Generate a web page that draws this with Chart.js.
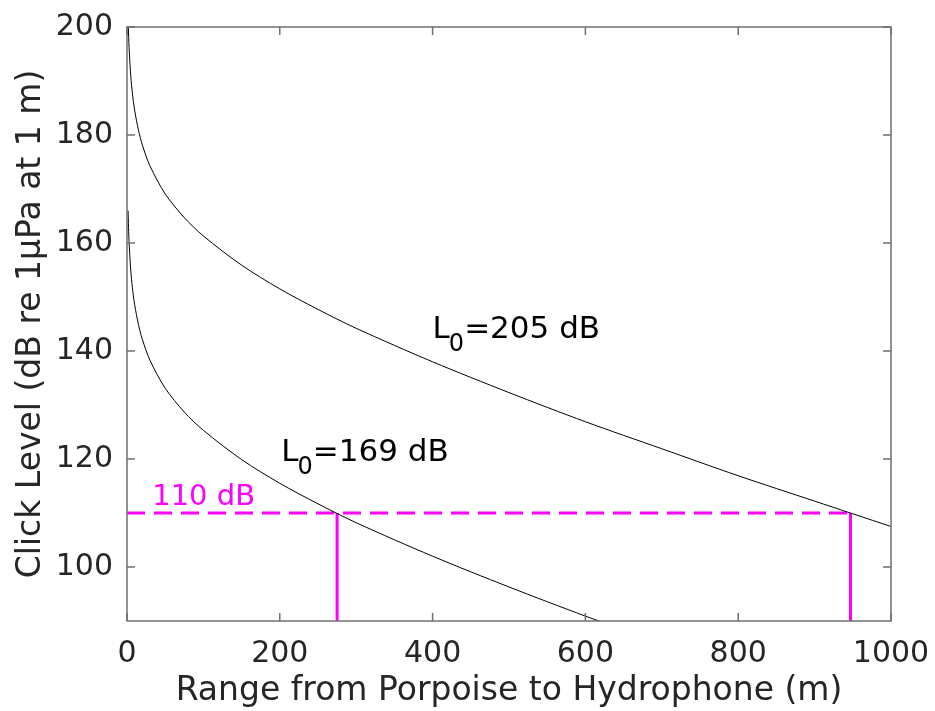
<!doctype html>
<html lang="en">
<head>
    <meta charset="utf-8">
    <title>Click Level vs Range</title>
    <script src="https://cdn.jsdelivr.net/npm/chart.js@4.4.1/dist/chart.umd.min.js"></script>
    <style>
        html, body { margin: 0; padding: 0; background: #fff; }
        #wrap { width: 935px; height: 711px; }
    </style>
</head>
<body>
    <div id="wrap"><canvas id="levelChart" width="935" height="711"></canvas></div>
    <script>
        // ranges (m) and click levels (dB)
        var range205 = [1.4, 2, 3, 5, 7, 10, 15, 20, 30, 50, 75, 100, 150, 200, 250, 300, 400, 500, 600, 700, 800, 900, 1000];
        var level205 = [202.0, 198.9, 195.4, 190.8, 187.8, 184.6, 180.9, 178.2, 174.3, 169.1, 164.7, 161.3, 155.9, 151.5, 147.7, 144.2, 138.0, 132.3, 126.9, 121.9, 116.9, 112.2, 107.5];
        var range169 = [1.4, 2, 3, 5, 7, 10, 15, 20, 30, 50, 75, 100, 150, 200, 250, 300, 400, 500, 600, 620];
        var level169 = [166.0, 162.9, 159.4, 154.8, 151.8, 148.6, 144.9, 142.2, 138.3, 133.1, 128.7, 125.3, 119.9, 115.5, 111.7, 108.2, 102.0, 96.3, 90.9, 89.9];

        var threshold = 110;
        var crossRanges = [275, 947];
        var xTicks = [0, 200, 400, 600, 800, 1000];
        var yTicks = [100, 120, 140, 160, 180, 200];

        var curveLabels = [
            { x: 400, y: 142.4, sub: '0', text: '=205 dB' },
            { x: 202, y: 119.7, sub: '0', text: '=169 dB' }
        ];

        function toPoints(xs, ys) {
            return xs.map(function (x, i) { return { x: x, y: ys[i] }; });
        }

        var magenta = '#ff00ff';
        var axisGray = '#707070';
        var textGray = '#262626';

        var datasets = [
            { data: toPoints(range205, level205), borderColor: '#000', borderWidth: 1, showLine: true, pointRadius: 0, tension: 0.3 },
            { data: toPoints(range169, level169), borderColor: '#000', borderWidth: 1, showLine: true, pointRadius: 0, tension: 0.3 },
            { data: [{ x: 0, y: threshold }, { x: crossRanges[1], y: threshold }], borderColor: magenta, borderWidth: 3, borderDash: [18, 9], showLine: true, pointRadius: 0 }
        ];
        crossRanges.forEach(function (r) {
            datasets.push({ data: [{ x: r, y: 90 }, { x: r, y: threshold }], borderColor: magenta, borderWidth: 3, showLine: true, pointRadius: 0 });
        });

        // box round the plot with inward ticks on all sides
        var boxPlugin = {
            id: 'box',
            afterDatasetsDraw: function (chart) {
                var ctx = chart.ctx, a = chart.chartArea;
                var xs = chart.scales.x, ys = chart.scales.y;
                ctx.save();
                ctx.strokeStyle = axisGray;
                ctx.lineWidth = 1.5;
                ctx.strokeRect(a.left, a.top, a.right - a.left, a.bottom - a.top);
                ctx.beginPath();
                xTicks.forEach(function (v) {
                    var px = xs.getPixelForValue(v);
                    ctx.moveTo(px, a.bottom); ctx.lineTo(px, a.bottom - 8);
                    ctx.moveTo(px, a.top); ctx.lineTo(px, a.top + 8);
                });
                yTicks.forEach(function (v) {
                    var py = ys.getPixelForValue(v);
                    ctx.moveTo(a.left, py); ctx.lineTo(a.left + 8, py);
                    ctx.moveTo(a.right, py); ctx.lineTo(a.right - 8, py);
                });
                ctx.stroke();

                // curve labels with subscript
                ctx.textBaseline = 'alphabetic';
                ctx.textAlign = 'left';
                ctx.fillStyle = '#000';
                curveLabels.forEach(function (l) {
                    var px = xs.getPixelForValue(l.x), py = ys.getPixelForValue(l.y);
                    ctx.font = '31px "DejaVu Sans"';
                    ctx.fillText('L', px, py);
                    var w = ctx.measureText('L').width;
                    ctx.font = '24px "DejaVu Sans"';
                    ctx.fillText(l.sub, px + w - 1, py + 13);
                    var w2 = ctx.measureText(l.sub).width;
                    ctx.font = '31px "DejaVu Sans"';
                    ctx.fillText(l.text, px + w + w2 - 1, py);
                });
                ctx.fillStyle = magenta;
                ctx.font = '29px "DejaVu Sans"';
                ctx.fillText(threshold + ' dB', xs.getPixelForValue(33), ys.getPixelForValue(111.5));
                ctx.restore();
            }
        };

        var tickFont = { family: 'DejaVu Sans', size: 30 };
        var titleFont = { family: 'DejaVu Sans', size: 33 };

        new Chart(document.getElementById('levelChart').getContext('2d'), {
            type: 'scatter',
            data: { datasets: datasets },
            plugins: [boxPlugin],
            options: {
                responsive: false,
                animation: false,
                layout: { padding: { top: 27, right: 44, left: 0, bottom: 0 } },
                plugins: { legend: { display: false }, tooltip: { enabled: false } },
                scales: {
                    x: {
                        type: 'linear', min: 0, max: 1000,
                        afterBuildTicks: function (s) { s.ticks = xTicks.map(function (v) { return { value: v }; }); },
                        afterFit: function (s) { s.height = 90; s.paddingLeft = 0; s.paddingRight = 0; },
                        grid: { display: false, drawTicks: false },
                        border: { display: false },
                        ticks: { color: textGray, font: tickFont, padding: 15, maxRotation: 0, callback: function (v) { return String(v); } },
                        title: { display: true, text: 'Range from Porpoise to Hydrophone (m)', color: textGray, font: titleFont, padding: { top: 0, bottom: 0 } }
                    },
                    y: {
                        type: 'linear', min: 90, max: 200,
                        afterBuildTicks: function (s) { s.ticks = yTicks.map(function (v) { return { value: v }; }); },
                        afterFit: function (s) { s.width = 127; s.paddingTop = 0; s.paddingBottom = 0; },
                        grid: { display: false, drawTicks: false },
                        border: { display: false },
                        ticks: { color: textGray, font: tickFont, padding: 14, callback: function (v) { return String(v); } },
                        title: { display: true, text: 'Click Level (dB re 1\u03bcPa at 1 m)', color: textGray, font: titleFont, padding: { top: 12, bottom: 0 } }
                    }
                }
            }
        });
    </script>
</body>
</html>
